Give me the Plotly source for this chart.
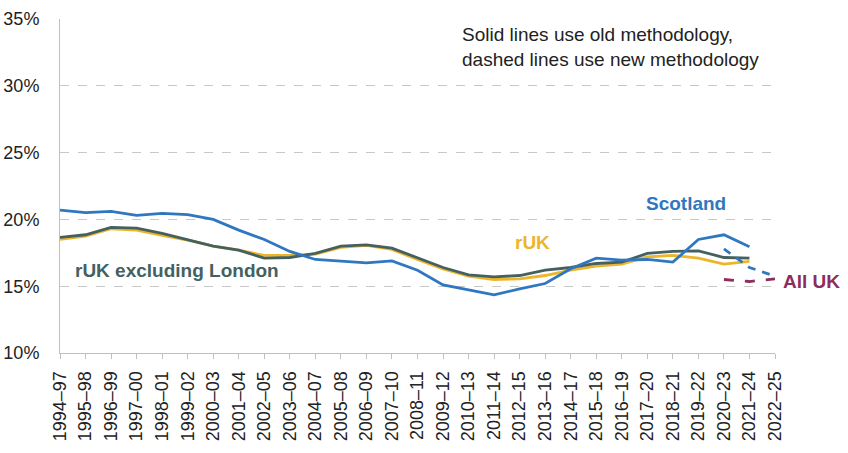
import plotly.graph_objects as go

years = ["1994–97","1995–98","1996–99","1997–00","1998–01","1999–02","2000–03","2001–04",
         "2002–05","2003–06","2004–07","2005–08","2006–09","2007–10","2008–11","2009–12",
         "2010–13","2011–14","2012–15","2013–16","2014–17","2015–18","2016–19","2017–20",
         "2018–21","2019–22","2020–23","2021–24","2022–25"]

scotland_old = [20.7,20.5,20.6,20.3,20.45,20.35,20.0,19.2,18.5,17.6,17.0,16.9,16.75,16.9,
                16.2,15.1,14.7,14.35,14.8,15.2,16.3,17.1,16.95,17.0,16.8,18.5,18.85,17.95]
ruk_old = [18.5,18.75,19.3,19.2,18.8,18.45,18.0,17.7,17.3,17.3,17.4,17.9,18.05,17.75,
           17.0,16.3,15.75,15.5,15.55,15.8,16.2,16.5,16.65,17.2,17.3,17.1,16.65,16.85]
ruk_exl_old = [18.65,18.85,19.4,19.35,18.95,18.5,18.0,17.7,17.1,17.15,17.45,18.0,18.1,17.85,
               17.1,16.4,15.85,15.7,15.8,16.2,16.4,16.7,16.8,17.45,17.6,17.65,17.15,17.1]
new_years = ["2020–23","2021–24","2022–25"]
scotland_new = [17.8,16.4,15.75]
alluk_new = [15.5,15.35,15.55]

yticks = [10,15,20,25,30,35]

C_SCOT = "#2F77C0"
C_RUK = "#EDB52A"
C_EXL = "#45615F"
C_ALL = "#8C2D5E"

idx = {y: i for i, y in enumerate(years)}
x_old = list(range(len(scotland_old)))
x_new = [idx[y] for y in new_years]

fig = go.Figure()
fig.add_trace(go.Scatter(x=x_old, y=ruk_old, mode="lines", line=dict(color=C_RUK, width=2.8)))
fig.add_trace(go.Scatter(x=x_old, y=ruk_exl_old, mode="lines", line=dict(color=C_EXL, width=2.8)))
fig.add_trace(go.Scatter(x=x_old, y=scotland_old, mode="lines", line=dict(color=C_SCOT, width=2.8)))
fig.add_trace(go.Scatter(x=x_new, y=scotland_new, mode="lines",
                         line=dict(color=C_SCOT, width=2.8, dash="8px,7px")))
fig.add_trace(go.Scatter(x=x_new, y=alluk_new, mode="lines",
                         line=dict(color=C_ALL, width=2.8, dash="10px,11px")))

font = "Liberation Sans, Arial, sans-serif"
fig.update_layout(
    width=848, height=453,
    margin=dict(l=60, r=73, t=19, b=100),
    paper_bgcolor="white", plot_bgcolor="white",
    showlegend=False,
    font=dict(family=font, size=18, color="#222222"),
    xaxis=dict(range=[0, len(years) - 1], tickmode="array", tickvals=list(range(len(years))),
               ticktext=years, tickangle=-90, showgrid=False, showline=True,
               linecolor="#BFBFBF", linewidth=1, ticks="outside", ticklen=5,
               tickcolor="#BFBFBF", tickfont=dict(size=18, color="#222222"), zeroline=False,
               automargin=False, ticklabelstandoff=5),
    yaxis=dict(range=[10, 35], tickmode="array", tickvals=yticks,
               ticktext=[f"{v}%" for v in yticks], showgrid=True, gridcolor="#C8C8C8",
               griddash="dash", gridwidth=1, showline=True, linecolor="#BFBFBF", linewidth=1,
               ticks="", tickfont=dict(size=18, color="#222222"), zeroline=False,
               ticklabelstandoff=16, automargin=False),
)

labels = [
    ("Scotland", 686, 203, C_SCOT, "center"),
    ("rUK", 532, 242, C_RUK, "center"),
    ("rUK excluding London", 73, 270, C_EXL, "left"),
    ("All UK", 781, 281, C_ALL, "left"),
]
for text, px, py, col, al in labels:
    fig.add_annotation(text=f"<b>{text}</b>", xref="paper", yref="paper",
                       x=(px - 60) / 715, y=(353 - py) / 334, xanchor=al, yanchor="middle",
                       showarrow=False, font=dict(size=19, color=col, family=font))

fig.add_annotation(text="Solid lines use old methodology,<br>dashed lines use new methodology",
                   xref="paper", yref="paper", x=(460 - 60) / 715, y=(353 - 22) / 334,
                   xanchor="left", yanchor="top", align="left", showarrow=False,
                   font=dict(size=19, color="#222222", family=font))

fig.write_html("out.html")
